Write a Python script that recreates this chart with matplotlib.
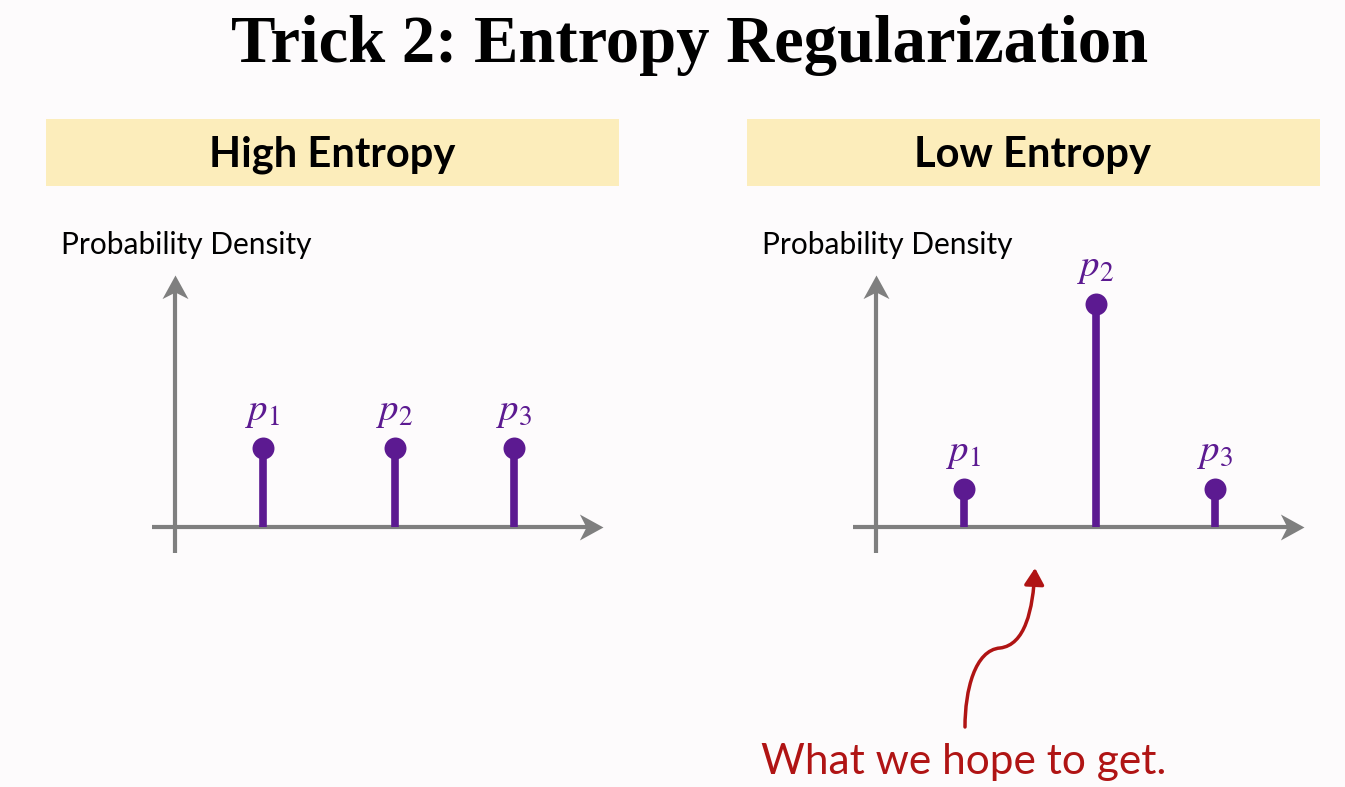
import matplotlib
matplotlib.use("Agg")
import matplotlib.pyplot as plt
from matplotlib.patches import Rectangle, FancyArrowPatch
from matplotlib.path import Path

# data (arbitrary density units)
outcomes = ["p_1", "p_2", "p_3"]
x_pos = [1.0, 2.5, 3.85]
high_entropy = [0.33, 0.33, 0.33]
low_entropy = [0.16, 0.93, 0.16]

W, H = 1345, 787
PX, PY = 88.0, 240.0          # pixels per data unit in the panels
purple = "#5c1a91"
gray = "#7f7f7f"
red = "#b01414"
bg = "#fdfbfc"

plt.rcParams["mathtext.fontset"] = "stix"

fig = plt.figure(figsize=(W / 100, H / 100), dpi=100, facecolor=bg)

# overlay in pixel coordinates for slide furniture
over = fig.add_axes([0, 0, 1, 1])
over.set_xlim(0, W)
over.set_ylim(H, 0)
over.axis("off")
over.set_facecolor("none")

over.text(690, 45, "Trick 2: Entropy Regularization", ha="center", va="center",
          fontsize=48, family="Liberation Serif", fontweight="bold", color="black")

for x0, title in [(46, "High Entropy"), (747, "Low Entropy")]:
    over.add_patch(Rectangle((x0, 119), 573, 67, color="#fcedbb", lw=0))
    over.text(x0 + 286, 155, title, ha="center", va="center", fontsize=30,
              family="Lato", fontweight="bold", color="black")


def stealth(angle):
    # arrow head shaped like a chevron, tip at the origin
    import numpy as np
    pts = np.array([(0, 0), (-1, 0.55), (-0.72, 0), (-1, -0.55), (0, 0)])
    c, s = np.cos(angle), np.sin(angle)
    pts = pts @ np.array([[c, s], [-s, c]])
    return Path(pts, [Path.MOVETO, Path.LINETO, Path.LINETO, Path.LINETO, Path.CLOSEPOLY])


def panel(ox, oy, values, label):
    x0, x1, y0, y1 = ox - 40, ox + 440, oy - 300, oy + 40
    ax = fig.add_axes([x0 / W, 1 - y1 / H, (x1 - x0) / W, (y1 - y0) / H])
    ax.set_xlim((x0 - ox) / PX, (x1 - ox) / PX)
    ax.set_ylim((oy - y1) / PY, (oy - y0) / PY)
    ax.axis("off")
    ax.set_facecolor("none")
    # axes with chevron heads
    ax.plot([-23 / PX, 414 / PX], [0, 0], color=gray, lw=3, solid_capstyle="butt")
    ax.plot([0, 0], [-26 / PY, 238 / PY], color=gray, lw=3, solid_capstyle="butt")
    ax.plot([428 / PX], [0], marker=stealth(0), ms=34, color=gray, mew=0, ls="none")
    ax.plot([0], [252 / PY], marker=stealth(3.14159 / 2), ms=34, color=gray, mew=0, ls="none")
    ax.vlines(x_pos, 0, values, color=purple, lw=5.5, zorder=3)
    ax.scatter(x_pos, values, s=250, color=purple, zorder=4, lw=0)
    for xp, v, name in zip(x_pos, values, outcomes):
        ax.annotate(f"${name}$", (xp, v), xytext=(0, 13), textcoords="offset points",
                    ha="center", va="bottom", fontsize=28, color=purple)
    over.text(ox - 114, 245, label, ha="left", va="center", fontsize=21.5,
              family="Lato", color="black")
    return ax


panel(175, 527, high_entropy, "Probability Density")
panel(876, 527, low_entropy, "Probability Density")

# curly red arrow and caption
verts = [(965, 727), (965, 690), (975, 650), (1000, 648),
         (1025, 645), (1033, 610), (1035, 568)]
codes = [Path.MOVETO, Path.CURVE4, Path.CURVE4, Path.CURVE4,
         Path.CURVE4, Path.CURVE4, Path.CURVE4]
over.add_patch(FancyArrowPatch(path=Path(verts, codes), arrowstyle="-|>,head_length=0.5,head_width=0.3",
                               mutation_scale=20, color=red, lw=2.5))
over.text(964, 762, "What we hope to get.", ha="center", va="center", fontsize=30.5,
          family="Lato", color=red)

fig.savefig("out.png", dpi=100, facecolor=bg)
